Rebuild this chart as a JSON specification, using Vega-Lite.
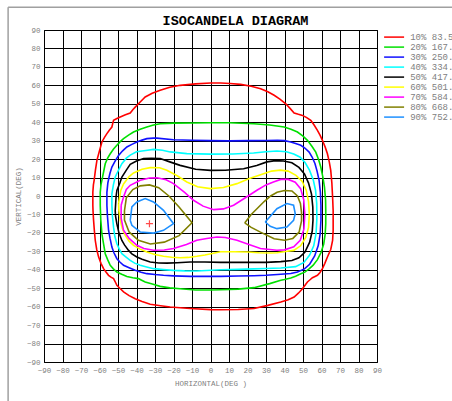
{
"$schema":"https://vega.github.io/schema/vega-lite/v6.json",
"width":333,"height":332,
"autosize":{"type":"none"},
"padding":{"left":44,"top":30,"right":75,"bottom":39},
"background":"white",
"title":{"text":"ISOCANDELA DIAGRAM","font":"Liberation Mono","fontSize":13.5,"fontWeight":"bold","color":"#000","frame":"group","anchor":"middle","dx":25,"baseline":"alphabetic","offset":-31.75},
"config":{"view":{"stroke":"#000","strokeWidth":1}},
"datasets":{
"f":[{"x":-109.4,"y":102.3,"x2":-109.4,"y2":-115},{"x":-109.4,"y":102.3,"x2":140,"y2":102.3}],
"m":[{"x":-33,"y":-15}],
"c":[
{"lv":"10% 83.5","x":-63.6,"y":-5},{"lv":"10% 83.5","x":-63.6,"y":2},{"lv":"10% 83.5","x":-63.3,"y":6},{"lv":"10% 83.5","x":-62.9,"y":8.5},{"lv":"10% 83.5","x":-62.2,"y":14},{"lv":"10% 83.5","x":-61.4,"y":19.3},{"lv":"10% 83.5","x":-60,"y":24.5},{"lv":"10% 83.5","x":-58.7,"y":29.3},{"lv":"10% 83.5","x":-57.3,"y":31.8},{"lv":"10% 83.5","x":-56,"y":33.8},{"lv":"10% 83.5","x":-54.6,"y":35.8},{"lv":"10% 83.5","x":-53.3,"y":37.4},{"lv":"10% 83.5","x":-52.8,"y":39.5},{"lv":"10% 83.5","x":-52.4,"y":41},{"lv":"10% 83.5","x":-50.6,"y":42},{"lv":"10% 83.5","x":-48.8,"y":42.8},{"lv":"10% 83.5","x":-46,"y":44},{"lv":"10% 83.5","x":-43.4,"y":45},{"lv":"10% 83.5","x":-42,"y":46.8},{"lv":"10% 83.5","x":-40.7,"y":48.2},{"lv":"10% 83.5","x":-38,"y":51},{"lv":"10% 83.5","x":-35.3,"y":53.7},{"lv":"10% 83.5","x":-31.5,"y":55.7},{"lv":"10% 83.5","x":-27.2,"y":57.3},{"lv":"10% 83.5","x":-22,"y":59},{"lv":"10% 83.5","x":-16.4,"y":60},{"lv":"10% 83.5","x":-8,"y":60.8},{"lv":"10% 83.5","x":0,"y":61.3},{"lv":"10% 83.5","x":5.5,"y":61.3},{"lv":"10% 83.5","x":10.6,"y":61},{"lv":"10% 83.5","x":16.3,"y":60.5},{"lv":"10% 83.5","x":22,"y":59.5},{"lv":"10% 83.5","x":27.1,"y":58.2},{"lv":"10% 83.5","x":31,"y":56.5},{"lv":"10% 83.5","x":34.4,"y":54.6},{"lv":"10% 83.5","x":37.5,"y":52.5},{"lv":"10% 83.5","x":40.7,"y":50},{"lv":"10% 83.5","x":43,"y":47.5},{"lv":"10% 83.5","x":45.2,"y":45},{"lv":"10% 83.5","x":47.5,"y":44.3},{"lv":"10% 83.5","x":49.7,"y":43.7},{"lv":"10% 83.5","x":52,"y":42.5},{"lv":"10% 83.5","x":54.2,"y":41},{"lv":"10% 83.5","x":56,"y":38.5},{"lv":"10% 83.5","x":57.8,"y":35.6},{"lv":"10% 83.5","x":59.2,"y":33},{"lv":"10% 83.5","x":60.5,"y":30.2},{"lv":"10% 83.5","x":62,"y":26.5},{"lv":"10% 83.5","x":63.2,"y":22.9},{"lv":"10% 83.5","x":64.2,"y":18.5},{"lv":"10% 83.5","x":65,"y":13.9},{"lv":"10% 83.5","x":65.6,"y":7},{"lv":"10% 83.5","x":66,"y":-0.6},{"lv":"10% 83.5","x":66.3,"y":-8},{"lv":"10% 83.5","x":66.3,"y":-18.7},{"lv":"10% 83.5","x":66,"y":-24.1},{"lv":"10% 83.5","x":65,"y":-29},{"lv":"10% 83.5","x":63.2,"y":-33.1},{"lv":"10% 83.5","x":61.8,"y":-36.5},{"lv":"10% 83.5","x":60.5,"y":-39.4},{"lv":"10% 83.5","x":59.2,"y":-41.5},{"lv":"10% 83.5","x":57.8,"y":-43},{"lv":"10% 83.5","x":56.5,"y":-43.6},{"lv":"10% 83.5","x":55.1,"y":-44.3},{"lv":"10% 83.5","x":53.8,"y":-45.4},{"lv":"10% 83.5","x":52.4,"y":-46.6},{"lv":"10% 83.5","x":51,"y":-48.5},{"lv":"10% 83.5","x":49.7,"y":-50.3},{"lv":"10% 83.5","x":47.5,"y":-52.7},{"lv":"10% 83.5","x":45.2,"y":-54.8},{"lv":"10% 83.5","x":42,"y":-56.3},{"lv":"10% 83.5","x":38,"y":-57.5},{"lv":"10% 83.5","x":31,"y":-59.3},{"lv":"10% 83.5","x":23.5,"y":-61},{"lv":"10% 83.5","x":15,"y":-61.5},{"lv":"10% 83.5","x":5.5,"y":-61.7},{"lv":"10% 83.5","x":0,"y":-61.6},{"lv":"10% 83.5","x":-11,"y":-61},{"lv":"10% 83.5","x":-21.8,"y":-60.2},{"lv":"10% 83.5","x":-27,"y":-59.5},{"lv":"10% 83.5","x":-32.6,"y":-58.7},{"lv":"10% 83.5","x":-37,"y":-57.2},{"lv":"10% 83.5","x":-40.7,"y":-55.7},{"lv":"10% 83.5","x":-44,"y":-54},{"lv":"10% 83.5","x":-47,"y":-52},{"lv":"10% 83.5","x":-49,"y":-50},{"lv":"10% 83.5","x":-50.6,"y":-48.4},{"lv":"10% 83.5","x":-51.5,"y":-46.5},{"lv":"10% 83.5","x":-52.4,"y":-44.8},{"lv":"10% 83.5","x":-53.8,"y":-44},{"lv":"10% 83.5","x":-55.1,"y":-43},{"lv":"10% 83.5","x":-56.5,"y":-41.2},{"lv":"10% 83.5","x":-57.8,"y":-39.4},{"lv":"10% 83.5","x":-59.2,"y":-36.5},{"lv":"10% 83.5","x":-60.5,"y":-33},{"lv":"10% 83.5","x":-61.5,"y":-29},{"lv":"10% 83.5","x":-62.3,"y":-24},{"lv":"10% 83.5","x":-62.8,"y":-18.5},{"lv":"10% 83.5","x":-63.2,"y":-13.2},{"lv":"10% 83.5","x":-63.5,"y":-8},{"lv":"10% 83.5","x":-63.6,"y":-5},
{"lv":"20% 167.","x":-59.6,"y":-5},{"lv":"20% 167.","x":-59.6,"y":2},{"lv":"20% 167.","x":-59.2,"y":6},{"lv":"20% 167.","x":-58.7,"y":8.5},{"lv":"20% 167.","x":-57.8,"y":13},{"lv":"20% 167.","x":-56.9,"y":17.5},{"lv":"20% 167.","x":-55.6,"y":20.5},{"lv":"20% 167.","x":-54.2,"y":22.9},{"lv":"20% 167.","x":-52.4,"y":25.5},{"lv":"20% 167.","x":-50.6,"y":27.5},{"lv":"20% 167.","x":-48.8,"y":29.5},{"lv":"20% 167.","x":-47,"y":31.1},{"lv":"20% 167.","x":-44.3,"y":33},{"lv":"20% 167.","x":-41.6,"y":34.7},{"lv":"20% 167.","x":-38,"y":36.2},{"lv":"20% 167.","x":-34.4,"y":37.4},{"lv":"20% 167.","x":-30.8,"y":38.5},{"lv":"20% 167.","x":-27.2,"y":39.2},{"lv":"20% 167.","x":-20,"y":39.5},{"lv":"20% 167.","x":-10,"y":39.6},{"lv":"20% 167.","x":0,"y":39.7},{"lv":"20% 167.","x":10,"y":39.7},{"lv":"20% 167.","x":23.5,"y":39.2},{"lv":"20% 167.","x":32,"y":38.5},{"lv":"20% 167.","x":39.8,"y":37.4},{"lv":"20% 167.","x":43.5,"y":36.2},{"lv":"20% 167.","x":47,"y":34.7},{"lv":"20% 167.","x":50,"y":32.5},{"lv":"20% 167.","x":52.4,"y":30.2},{"lv":"20% 167.","x":54.8,"y":27},{"lv":"20% 167.","x":56.9,"y":23.8},{"lv":"20% 167.","x":58.5,"y":19.5},{"lv":"20% 167.","x":59.6,"y":15.7},{"lv":"20% 167.","x":60.8,"y":10},{"lv":"20% 167.","x":61.6,"y":4.8},{"lv":"20% 167.","x":62.2,"y":-2},{"lv":"20% 167.","x":62.3,"y":-7.8},{"lv":"20% 167.","x":62.3,"y":-15},{"lv":"20% 167.","x":62,"y":-20.5},{"lv":"20% 167.","x":61.2,"y":-26},{"lv":"20% 167.","x":59.8,"y":-30.5},{"lv":"20% 167.","x":57.8,"y":-34.5},{"lv":"20% 167.","x":55.5,"y":-37.5},{"lv":"20% 167.","x":53.3,"y":-39.5},{"lv":"20% 167.","x":51,"y":-41.3},{"lv":"20% 167.","x":48.8,"y":-42.2},{"lv":"20% 167.","x":46,"y":-43.5},{"lv":"20% 167.","x":43.4,"y":-44.5},{"lv":"20% 167.","x":40,"y":-45.3},{"lv":"20% 167.","x":38,"y":-45.7},{"lv":"20% 167.","x":32,"y":-47.5},{"lv":"20% 167.","x":23.5,"y":-49.7},{"lv":"20% 167.","x":15,"y":-50.5},{"lv":"20% 167.","x":5.5,"y":-50.8},{"lv":"20% 167.","x":0,"y":-51},{"lv":"20% 167.","x":-8,"y":-51},{"lv":"20% 167.","x":-16.4,"y":-50.3},{"lv":"20% 167.","x":-22,"y":-49.8},{"lv":"20% 167.","x":-27.2,"y":-49},{"lv":"20% 167.","x":-31,"y":-47.8},{"lv":"20% 167.","x":-35.3,"y":-46.6},{"lv":"20% 167.","x":-37.5,"y":-45.5},{"lv":"20% 167.","x":-38.9,"y":-44.8},{"lv":"20% 167.","x":-42,"y":-44.3},{"lv":"20% 167.","x":-45.2,"y":-43.6},{"lv":"20% 167.","x":-48,"y":-42.4},{"lv":"20% 167.","x":-50.6,"y":-41.2},{"lv":"20% 167.","x":-52.5,"y":-39.5},{"lv":"20% 167.","x":-54.2,"y":-37.6},{"lv":"20% 167.","x":-55.6,"y":-34.5},{"lv":"20% 167.","x":-56.9,"y":-31.3},{"lv":"20% 167.","x":-57.8,"y":-26},{"lv":"20% 167.","x":-58.7,"y":-20.5},{"lv":"20% 167.","x":-59.3,"y":-13},{"lv":"20% 167.","x":-59.6,"y":-5},
{"lv":"30% 250.","x":-56,"y":-5},{"lv":"30% 250.","x":-56,"y":2},{"lv":"30% 250.","x":-55.5,"y":7},{"lv":"30% 250.","x":-54.9,"y":10},{"lv":"30% 250.","x":-54.3,"y":12.5},{"lv":"30% 250.","x":-53.3,"y":15.7},{"lv":"30% 250.","x":-51.5,"y":19},{"lv":"30% 250.","x":-49.7,"y":22},{"lv":"30% 250.","x":-47.5,"y":24.5},{"lv":"30% 250.","x":-45.2,"y":26.6},{"lv":"30% 250.","x":-42.5,"y":28},{"lv":"30% 250.","x":-39.8,"y":29.3},{"lv":"30% 250.","x":-37,"y":30.3},{"lv":"30% 250.","x":-34.4,"y":31.1},{"lv":"30% 250.","x":-30.8,"y":31.4},{"lv":"30% 250.","x":-29,"y":31.4},{"lv":"30% 250.","x":-20,"y":30.5},{"lv":"30% 250.","x":-10,"y":30.2},{"lv":"30% 250.","x":0,"y":30},{"lv":"30% 250.","x":10,"y":29.9},{"lv":"30% 250.","x":20,"y":30},{"lv":"30% 250.","x":30,"y":30.1},{"lv":"30% 250.","x":36.2,"y":30.2},{"lv":"30% 250.","x":40,"y":30},{"lv":"30% 250.","x":43.4,"y":29.3},{"lv":"30% 250.","x":46,"y":28.5},{"lv":"30% 250.","x":48.8,"y":27.5},{"lv":"30% 250.","x":51,"y":26},{"lv":"30% 250.","x":53.3,"y":23.8},{"lv":"30% 250.","x":55,"y":21},{"lv":"30% 250.","x":56.5,"y":17.5},{"lv":"30% 250.","x":57.6,"y":13.5},{"lv":"30% 250.","x":58.7,"y":8.5},{"lv":"30% 250.","x":59.4,"y":2},{"lv":"30% 250.","x":59.7,"y":-5},{"lv":"30% 250.","x":59.7,"y":-13},{"lv":"30% 250.","x":59.3,"y":-20.5},{"lv":"30% 250.","x":58.2,"y":-27},{"lv":"30% 250.","x":56.3,"y":-32.5},{"lv":"30% 250.","x":53.6,"y":-37},{"lv":"30% 250.","x":50.8,"y":-39.5},{"lv":"30% 250.","x":47,"y":-41.2},{"lv":"30% 250.","x":43.4,"y":-42},{"lv":"30% 250.","x":36.2,"y":-42.6},{"lv":"30% 250.","x":30,"y":-43},{"lv":"30% 250.","x":23.5,"y":-43.2},{"lv":"30% 250.","x":15,"y":-43.4},{"lv":"30% 250.","x":5.5,"y":-43.6},{"lv":"30% 250.","x":-5,"y":-43.6},{"lv":"30% 250.","x":-11,"y":-43.6},{"lv":"30% 250.","x":-20,"y":-43.3},{"lv":"30% 250.","x":-25.4,"y":-43},{"lv":"30% 250.","x":-30,"y":-42.6},{"lv":"30% 250.","x":-34.4,"y":-42.1},{"lv":"30% 250.","x":-37.5,"y":-41.3},{"lv":"30% 250.","x":-40.7,"y":-40.3},{"lv":"30% 250.","x":-44,"y":-38.9},{"lv":"30% 250.","x":-47,"y":-37.6},{"lv":"30% 250.","x":-49,"y":-35.8},{"lv":"30% 250.","x":-50.6,"y":-34},{"lv":"30% 250.","x":-52.2,"y":-30.8},{"lv":"30% 250.","x":-53.3,"y":-27.7},{"lv":"30% 250.","x":-54.3,"y":-23},{"lv":"30% 250.","x":-55.1,"y":-18.7},{"lv":"30% 250.","x":-55.7,"y":-11},{"lv":"30% 250.","x":-56,"y":-5},
{"lv":"40% 334.","x":-53.3,"y":-5},{"lv":"40% 334.","x":-53.3,"y":1.2},{"lv":"40% 334.","x":-52.5,"y":6},{"lv":"40% 334.","x":-51.5,"y":10.3},{"lv":"40% 334.","x":-49.5,"y":14.5},{"lv":"40% 334.","x":-47.9,"y":17.5},{"lv":"40% 334.","x":-45.5,"y":20.5},{"lv":"40% 334.","x":-43.4,"y":22.2},{"lv":"40% 334.","x":-40,"y":24},{"lv":"40% 334.","x":-35,"y":24.7},{"lv":"40% 334.","x":-30.8,"y":25.3},{"lv":"40% 334.","x":-26,"y":24.8},{"lv":"40% 334.","x":-21.8,"y":23.9},{"lv":"40% 334.","x":-12.8,"y":23},{"lv":"40% 334.","x":0,"y":22.7},{"lv":"40% 334.","x":12,"y":22.8},{"lv":"40% 334.","x":23.3,"y":23.3},{"lv":"40% 334.","x":30,"y":24},{"lv":"40% 334.","x":35.9,"y":24.4},{"lv":"40% 334.","x":41,"y":24},{"lv":"40% 334.","x":45,"y":22.8},{"lv":"40% 334.","x":48.5,"y":21},{"lv":"40% 334.","x":51.2,"y":18},{"lv":"40% 334.","x":53.5,"y":14},{"lv":"40% 334.","x":55.6,"y":8.5},{"lv":"40% 334.","x":56.8,"y":3},{"lv":"40% 334.","x":57.4,"y":-4},{"lv":"40% 334.","x":57.5,"y":-12},{"lv":"40% 334.","x":57.1,"y":-20},{"lv":"40% 334.","x":55.8,"y":-27},{"lv":"40% 334.","x":53.6,"y":-32},{"lv":"40% 334.","x":50.5,"y":-36},{"lv":"40% 334.","x":46,"y":-38.3},{"lv":"40% 334.","x":38,"y":-39},{"lv":"40% 334.","x":30,"y":-39.3},{"lv":"40% 334.","x":23.5,"y":-39.5},{"lv":"40% 334.","x":15,"y":-39.8},{"lv":"40% 334.","x":5.5,"y":-40},{"lv":"40% 334.","x":-7.4,"y":-40.7},{"lv":"40% 334.","x":-14,"y":-40.6},{"lv":"40% 334.","x":-20,"y":-40.3},{"lv":"40% 334.","x":-25.5,"y":-39.9},{"lv":"40% 334.","x":-30.8,"y":-39.4},{"lv":"40% 334.","x":-34.5,"y":-38.5},{"lv":"40% 334.","x":-38,"y":-37.6},{"lv":"40% 334.","x":-41,"y":-36.4},{"lv":"40% 334.","x":-43.4,"y":-34.9},{"lv":"40% 334.","x":-45.8,"y":-33},{"lv":"40% 334.","x":-47.9,"y":-31.3},{"lv":"40% 334.","x":-49.3,"y":-28.8},{"lv":"40% 334.","x":-50.6,"y":-25.9},{"lv":"40% 334.","x":-51.7,"y":-22},{"lv":"40% 334.","x":-52.4,"y":-16.9},{"lv":"40% 334.","x":-53,"y":-11},{"lv":"40% 334.","x":-53.3,"y":-5},
{"lv":"50% 417.","x":-51.5,"y":-8},{"lv":"50% 417.","x":-51,"y":0},{"lv":"50% 417.","x":-50.6,"y":3},{"lv":"50% 417.","x":-49,"y":7},{"lv":"50% 417.","x":-47.9,"y":10.3},{"lv":"50% 417.","x":-45.5,"y":14},{"lv":"50% 417.","x":-43.4,"y":17.2},{"lv":"50% 417.","x":-40,"y":19},{"lv":"50% 417.","x":-36.2,"y":20.3},{"lv":"50% 417.","x":-32,"y":20.5},{"lv":"50% 417.","x":-27.2,"y":20.3},{"lv":"50% 417.","x":-22,"y":18.5},{"lv":"50% 417.","x":-16.4,"y":16.6},{"lv":"50% 417.","x":-8,"y":14.5},{"lv":"50% 417.","x":0,"y":13.9},{"lv":"50% 417.","x":8,"y":14},{"lv":"50% 417.","x":17.9,"y":14.8},{"lv":"50% 417.","x":25,"y":16.5},{"lv":"50% 417.","x":30.5,"y":18.5},{"lv":"50% 417.","x":35,"y":19.2},{"lv":"50% 417.","x":39.5,"y":19},{"lv":"50% 417.","x":44,"y":18},{"lv":"50% 417.","x":47.8,"y":15.5},{"lv":"50% 417.","x":50.8,"y":12},{"lv":"50% 417.","x":53,"y":7},{"lv":"50% 417.","x":54.6,"y":1},{"lv":"50% 417.","x":55.3,"y":-6},{"lv":"50% 417.","x":55.4,"y":-13},{"lv":"50% 417.","x":55,"y":-19},{"lv":"50% 417.","x":53.6,"y":-25},{"lv":"50% 417.","x":51,"y":-30.5},{"lv":"50% 417.","x":47.8,"y":-33.5},{"lv":"50% 417.","x":44,"y":-35},{"lv":"50% 417.","x":38,"y":-35.6},{"lv":"50% 417.","x":30,"y":-36},{"lv":"50% 417.","x":23.5,"y":-36},{"lv":"50% 417.","x":15,"y":-36},{"lv":"50% 417.","x":5.5,"y":-36},{"lv":"50% 417.","x":-3,"y":-35.8},{"lv":"50% 417.","x":-11,"y":-35.8},{"lv":"50% 417.","x":-18,"y":-36.2},{"lv":"50% 417.","x":-23.6,"y":-36.4},{"lv":"50% 417.","x":-28,"y":-36.3},{"lv":"50% 417.","x":-32.6,"y":-35.8},{"lv":"50% 417.","x":-37,"y":-34.3},{"lv":"50% 417.","x":-39.8,"y":-33.1},{"lv":"50% 417.","x":-42.5,"y":-31.4},{"lv":"50% 417.","x":-44.3,"y":-29.5},{"lv":"50% 417.","x":-46.5,"y":-26.5},{"lv":"50% 417.","x":-47.9,"y":-24.1},{"lv":"50% 417.","x":-49.5,"y":-20},{"lv":"50% 417.","x":-50.6,"y":-15.1},{"lv":"50% 417.","x":-51.3,"y":-11},{"lv":"50% 417.","x":-51.5,"y":-8},
{"lv":"60% 501.","x":-49.7,"y":-4},{"lv":"60% 501.","x":-48.5,"y":3},{"lv":"60% 501.","x":-47,"y":6.5},{"lv":"60% 501.","x":-44,"y":10.5},{"lv":"60% 501.","x":-41.6,"y":12.5},{"lv":"60% 501.","x":-37,"y":14.5},{"lv":"60% 501.","x":-32.6,"y":15.4},{"lv":"60% 501.","x":-27.5,"y":15.3},{"lv":"60% 501.","x":-23.6,"y":14},{"lv":"60% 501.","x":-18,"y":11},{"lv":"60% 501.","x":-12.8,"y":7.6},{"lv":"60% 501.","x":-7,"y":5},{"lv":"60% 501.","x":0,"y":4},{"lv":"60% 501.","x":7,"y":4.6},{"lv":"60% 501.","x":14.3,"y":6.7},{"lv":"60% 501.","x":21,"y":9.5},{"lv":"60% 501.","x":28.7,"y":12.1},{"lv":"60% 501.","x":33,"y":13.5},{"lv":"60% 501.","x":37.7,"y":14},{"lv":"60% 501.","x":42,"y":13.5},{"lv":"60% 501.","x":46.2,"y":11.2},{"lv":"60% 501.","x":49.5,"y":8},{"lv":"60% 501.","x":51.8,"y":3},{"lv":"60% 501.","x":53,"y":-3},{"lv":"60% 501.","x":53.4,"y":-10},{"lv":"60% 501.","x":53,"y":-17},{"lv":"60% 501.","x":51.5,"y":-22.5},{"lv":"60% 501.","x":48.7,"y":-27},{"lv":"60% 501.","x":45,"y":-29.5},{"lv":"60% 501.","x":41.6,"y":-30},{"lv":"60% 501.","x":36,"y":-30.8},{"lv":"60% 501.","x":32.6,"y":-30.9},{"lv":"60% 501.","x":26,"y":-30.8},{"lv":"60% 501.","x":20,"y":-30.4},{"lv":"60% 501.","x":13,"y":-30.2},{"lv":"60% 501.","x":5.5,"y":-30.2},{"lv":"60% 501.","x":1.6,"y":-31},{"lv":"60% 501.","x":-3,"y":-32},{"lv":"60% 501.","x":-7.4,"y":-32.7},{"lv":"60% 501.","x":-12,"y":-33.3},{"lv":"60% 501.","x":-16.4,"y":-33.5},{"lv":"60% 501.","x":-21,"y":-33.2},{"lv":"60% 501.","x":-25.4,"y":-32.7},{"lv":"60% 501.","x":-30,"y":-31.7},{"lv":"60% 501.","x":-34.4,"y":-30.4},{"lv":"60% 501.","x":-38,"y":-28.8},{"lv":"60% 501.","x":-41.6,"y":-26.8},{"lv":"60% 501.","x":-44,"y":-24.5},{"lv":"60% 501.","x":-46.1,"y":-21.4},{"lv":"60% 501.","x":-47.7,"y":-17.5},{"lv":"60% 501.","x":-48.8,"y":-13.2},{"lv":"60% 501.","x":-49.5,"y":-8},{"lv":"60% 501.","x":-49.7,"y":-4},
{"lv":"70% 584.","x":-48.3,"y":-5},{"lv":"70% 584.","x":-47,"y":-0.5},{"lv":"70% 584.","x":-45.5,"y":3.5},{"lv":"70% 584.","x":-43.4,"y":5.8},{"lv":"70% 584.","x":-38,"y":8.5},{"lv":"70% 584.","x":-33,"y":9.8},{"lv":"70% 584.","x":-29,"y":9.9},{"lv":"70% 584.","x":-24,"y":8.8},{"lv":"70% 584.","x":-20,"y":6.7},{"lv":"70% 584.","x":-14,"y":2},{"lv":"70% 584.","x":-9.2,"y":-2.3},{"lv":"70% 584.","x":-4,"y":-5.5},{"lv":"70% 584.","x":1.7,"y":-7.4},{"lv":"70% 584.","x":7,"y":-7},{"lv":"70% 584.","x":12.5,"y":-5},{"lv":"70% 584.","x":18,"y":-1.5},{"lv":"70% 584.","x":25.1,"y":3.1},{"lv":"70% 584.","x":30,"y":6},{"lv":"70% 584.","x":34,"y":7.6},{"lv":"70% 584.","x":38,"y":9},{"lv":"70% 584.","x":42,"y":9},{"lv":"70% 584.","x":45.8,"y":7.5},{"lv":"70% 584.","x":48.7,"y":4},{"lv":"70% 584.","x":50.4,"y":-2},{"lv":"70% 584.","x":51,"y":-10},{"lv":"70% 584.","x":50.5,"y":-18},{"lv":"70% 584.","x":48.5,"y":-24},{"lv":"70% 584.","x":45,"y":-27.5},{"lv":"70% 584.","x":40,"y":-29.2},{"lv":"70% 584.","x":35.9,"y":-29.4},{"lv":"70% 584.","x":27,"y":-28.5},{"lv":"70% 584.","x":20,"y":-26},{"lv":"70% 584.","x":14.3,"y":-24},{"lv":"70% 584.","x":8,"y":-22.5},{"lv":"70% 584.","x":3.5,"y":-22.2},{"lv":"70% 584.","x":-2,"y":-23},{"lv":"70% 584.","x":-7.4,"y":-24},{"lv":"70% 584.","x":-13,"y":-26.3},{"lv":"70% 584.","x":-20,"y":-28.5},{"lv":"70% 584.","x":-25,"y":-29.3},{"lv":"70% 584.","x":-30.8,"y":-29.4},{"lv":"70% 584.","x":-36,"y":-28.5},{"lv":"70% 584.","x":-39.8,"y":-26.7},{"lv":"70% 584.","x":-44,"y":-23},{"lv":"70% 584.","x":-47,"y":-18.6},{"lv":"70% 584.","x":-48.3,"y":-12},{"lv":"70% 584.","x":-48.3,"y":-5},
{"lv":"80% 668.","k":"L","x":-46.5,"y":-8},{"lv":"80% 668.","k":"L","x":-45.5,"y":-1},{"lv":"80% 668.","k":"L","x":-42,"y":3.5},{"lv":"80% 668.","k":"L","x":-38,"y":5.5},{"lv":"80% 668.","k":"L","x":-33,"y":6},{"lv":"80% 668.","k":"L","x":-28,"y":4.5},{"lv":"80% 668.","k":"L","x":-22.5,"y":0},{"lv":"80% 668.","k":"L","x":-17,"y":-6},{"lv":"80% 668.","k":"L","x":-10,"y":-14.5},{"lv":"80% 668.","k":"L","x":-17,"y":-21.5},{"lv":"80% 668.","k":"L","x":-25,"y":-25},{"lv":"80% 668.","k":"L","x":-32.5,"y":-26},{"lv":"80% 668.","k":"L","x":-39,"y":-24},{"lv":"80% 668.","k":"L","x":-44,"y":-19.5},{"lv":"80% 668.","k":"L","x":-46.5,"y":-13},{"lv":"80% 668.","k":"L","x":-46.5,"y":-8},
{"lv":"80% 668.","k":"R","x":18.5,"y":-14.6},{"lv":"80% 668.","k":"R","x":22,"y":-10},{"lv":"80% 668.","k":"R","x":25.5,"y":-6.5},{"lv":"80% 668.","k":"R","x":29,"y":-3},{"lv":"80% 668.","k":"R","x":32.5,"y":0},{"lv":"80% 668.","k":"R","x":36,"y":2},{"lv":"80% 668.","k":"R","x":40,"y":3},{"lv":"80% 668.","k":"R","x":44,"y":2.7},{"lv":"80% 668.","k":"R","x":47,"y":0},{"lv":"80% 668.","k":"R","x":48.6,"y":-4},{"lv":"80% 668.","k":"R","x":49.2,"y":-9},{"lv":"80% 668.","k":"R","x":49.2,"y":-13.5},{"lv":"80% 668.","k":"R","x":47.9,"y":-19.6},{"lv":"80% 668.","k":"R","x":44.5,"y":-23},{"lv":"80% 668.","k":"R","x":40,"y":-24},{"lv":"80% 668.","k":"R","x":34.4,"y":-23.2},{"lv":"80% 668.","k":"R","x":27,"y":-19.6},{"lv":"80% 668.","k":"R","x":22,"y":-17},{"lv":"80% 668.","k":"R","x":18.5,"y":-14.6},
{"lv":"90% 752.","k":"L","x":-43.4,"y":-13.2},{"lv":"90% 752.","k":"L","x":-42.5,"y":-5.9},{"lv":"90% 752.","k":"L","x":-39.8,"y":-3.2},{"lv":"90% 752.","k":"L","x":-35.3,"y":-1.4},{"lv":"90% 752.","k":"L","x":-30.8,"y":-3.2},{"lv":"90% 752.","k":"L","x":-25.4,"y":-7.8},{"lv":"90% 752.","k":"L","x":-20,"y":-15},{"lv":"90% 752.","k":"L","x":-25.4,"y":-18.6},{"lv":"90% 752.","k":"L","x":-30.8,"y":-20.1},{"lv":"90% 752.","k":"L","x":-38,"y":-19.5},{"lv":"90% 752.","k":"L","x":-42.5,"y":-15.9},{"lv":"90% 752.","k":"L","x":-43.4,"y":-13.2},
{"lv":"90% 752.","k":"R","x":29.6,"y":-14.1},{"lv":"90% 752.","k":"R","x":35.9,"y":-6.9},{"lv":"90% 752.","k":"R","x":41.3,"y":-4.1},{"lv":"90% 752.","k":"R","x":44.9,"y":-5},{"lv":"90% 752.","k":"R","x":45.8,"y":-9.6},{"lv":"90% 752.","k":"R","x":44.9,"y":-13.2},{"lv":"90% 752.","k":"R","x":41.3,"y":-16.8},{"lv":"90% 752.","k":"R","x":35.9,"y":-17.7},{"lv":"90% 752.","k":"R","x":32.3,"y":-16.4},{"lv":"90% 752.","k":"R","x":29.6,"y":-14.1}
]},
"encoding":{
"x":{"field":"x","type":"quantitative","scale":{"domain":[-90,90],"nice":false,"zero":false},
 "axis":{"values":[-90,-80,-70,-60,-50,-40,-30,-20,-10,0,10,20,30,40,50,60,70,80,90],"grid":true,"gridColor":"#000","gridOpacity":1,"gridWidth":1,"domain":false,"ticks":false,"labelFont":"Liberation Mono","labelFontSize":7.5,"labelColor":"#808080","labelPadding":4,"labelFlush":false,"labelOverlap":false,"title":"HORIZONTAL(DEG )","titleFont":"Liberation Mono","titleFontSize":7.5,"titleFontWeight":"normal","titleColor":"#808080","titlePadding":6}},
"y":{"field":"y","type":"quantitative","scale":{"domain":[-90,90],"nice":false,"zero":false},
 "axis":{"values":[-90,-80,-70,-60,-50,-40,-30,-20,-10,0,10,20,30,40,50,60,70,80,90],"grid":true,"gridColor":"#000","gridOpacity":1,"gridWidth":1,"domain":false,"ticks":false,"labelFont":"Liberation Mono","labelFontSize":7.5,"labelColor":"#808080","labelPadding":4,"labelFlush":false,"labelOverlap":false,"title":"VERTICAL(DEG)","titleFont":"Liberation Mono","titleFontSize":7.5,"titleFontWeight":"normal","titleColor":"#808080","titlePadding":4}}
},
"layer":[
{"data":{"name":"f"},"mark":{"type":"rule","color":"#a0a0a0","strokeWidth":1.5,"clip":false},"encoding":{"x2":{"field":"x2"},"y2":{"field":"y2"}}},
{"data":{"name":"c"},"mark":{"type":"line","strokeWidth":1.6},
 "encoding":{
 "color":{"field":"lv","type":"nominal","scale":{"domain":["10% 83.5","20% 167.","30% 250.","40% 334.","50% 417.","60% 501.","70% 584.","80% 668.","90% 752."],"range":["#ff0000","#00e000","#1010ff","#00ffff","#000000","#ffff00","#ff00ff","#808000","#1e90ff"]},
  "legend":{"title":null,"orient":"none","legendX":345.1,"legendY":2.1,"symbolType":"M-2.58,0H2.58","symbolSize":60,"symbolStrokeWidth":1.5,"labelFont":"Liberation Mono","labelFontSize":9,"labelColor":"#808080","rowPadding":0,"padding":0,"labelOffset":11.1}},
 "detail":{"field":"k"},
 "order":{"value":null}}},
{"data":{"name":"m"},"mark":{"type":"point","shape":"M-1,0H1M0,-1V1","size":50,"color":"#ff0000","strokeWidth":1.2,"filled":false}}
]
}
